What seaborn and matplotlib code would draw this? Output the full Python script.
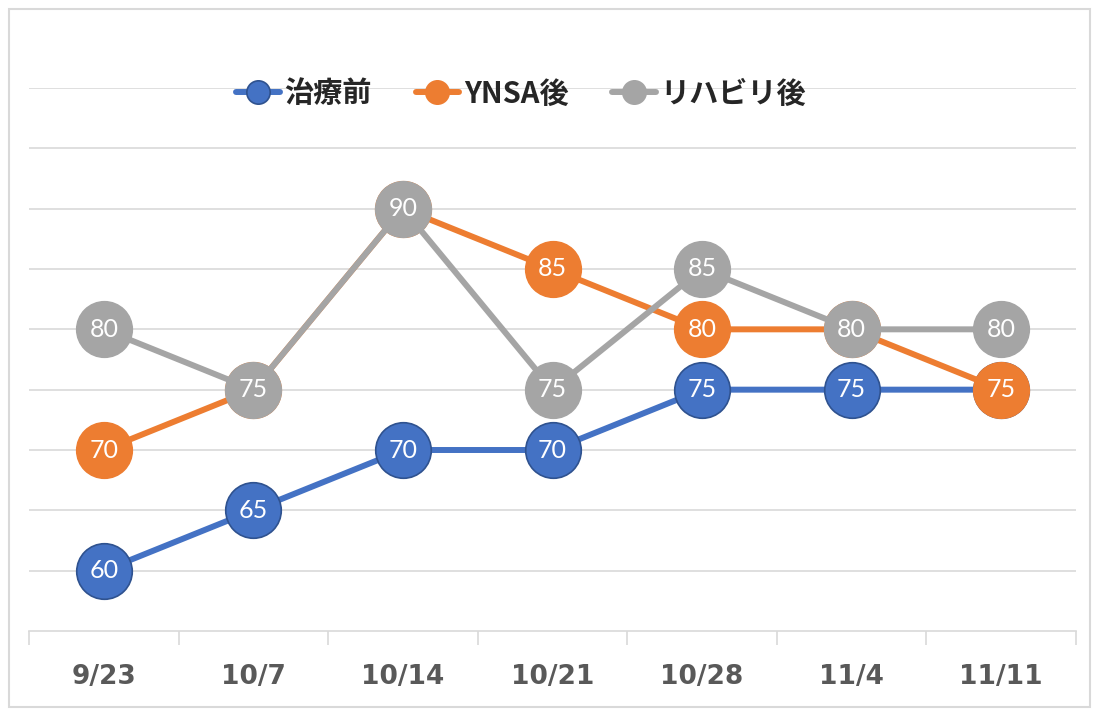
import seaborn as sns
import pandas as pd
import matplotlib.pyplot as plt
from matplotlib.patches import Rectangle

dates = ['9/23', '10/7', '10/14', '10/21', '10/28', '11/4', '11/11']
before = [60, 65, 70, 70, 75, 75, 75]
ynsa = [70, 75, 90, 85, 80, 80, 75]
rehab = [80, 75, 90, 75, 85, 80, 80]

series_names = ['治療前', 'YNSA後', 'リハビリ後']
series_values = [before, ynsa, rehab]
colors = ['#4472C4', '#ED7D31', '#A5A5A5']
edge_colors = ['#2F528F', '#ED7D31', '#A5A5A5']

sns.set_style('white')
plt.rcParams['font.family'] = ['Noto Sans CJK JP', 'DejaVu Sans']

fig = plt.figure(figsize=(11, 7.2), dpi=100)
ax = fig.add_axes([29 / 1100, 1 - 631 / 720, (1076 - 29) / 1100, (631 - 88) / 720])

for i, (name, vals) in enumerate(zip(series_names, series_values)):
    df = pd.DataFrame({'date': dates, 'value': vals})
    sns.lineplot(data=df, x='date', y='value', ax=ax, color=colors[i], label=name,
                 linewidth=4.3, marker='o', markersize=40,
                 markeredgecolor=edge_colors[i], markeredgewidth=1.2,
                 zorder=3 + 2 * i, sort=False)
    for x, v in zip(dates, vals):
        ax.text(x, v, str(v), color='white', ha='center', va='center',
                fontsize=18, family=['Lato', 'DejaVu Sans'], zorder=4 + 2 * i)

ax.set_ylim(55, 100)
ax.set_yticks(range(60, 101, 5))
ax.set_yticklabels([])
ax.set_xlim(-0.5, len(dates) - 0.5)
ax.grid(axis='y', color='#D9D9D9', linewidth=1.2)
ax.set_axisbelow(True)
ax.set_xlabel('')
ax.set_ylabel('')

for side in ['left', 'right', 'top']:
    ax.spines[side].set_visible(False)
ax.spines['bottom'].set_color('#D9D9D9')
ax.spines['bottom'].set_linewidth(1.2)

ax.tick_params(axis='y', length=0)
ax.tick_params(axis='x', which='major', length=0, pad=24, labelsize=19,
               labelcolor='#595959')
ax.set_xticks([k - 0.5 for k in range(len(dates) + 1)], minor=True)
ax.tick_params(axis='x', which='minor', bottom=True, direction='out', length=10,
               color='#D9D9D9', width=1.2)
for lab in ax.get_xticklabels():
    lab.set_fontweight('bold')
    lab.set_family(['DejaVu Sans'])

leg = ax.legend(loc='center', bbox_to_anchor=(0.47, 0.99), ncol=3, frameon=False,
                markerscale=0.42, handlelength=1.5, handletextpad=0.15,
                columnspacing=1.5, prop={'size': 21, 'weight': 'bold'})

fig.patches.append(Rectangle((9 / 1100, 1 - 707 / 720), (1090 - 9) / 1100, (707 - 9) / 720,
                             transform=fig.transFigure, fill=False,
                             edgecolor='#D9D9D9', linewidth=1.5))

fig.savefig('out.png', dpi=100)
